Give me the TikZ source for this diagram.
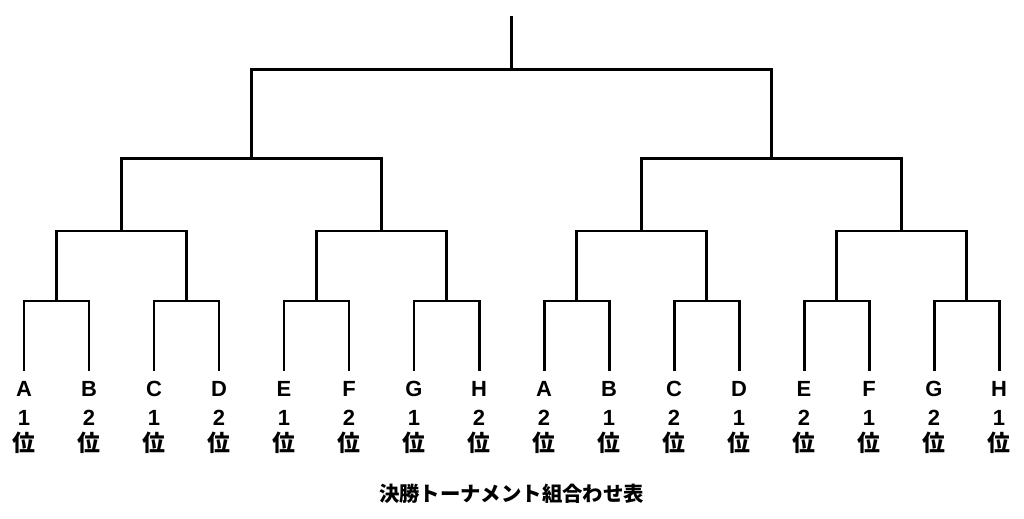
\documentclass[tikz,border=0pt]{standalone}
\usepackage{fontspec}
\usepackage{tikz}
\newfontfamily\jpfont{Noto Sans CJK JP}
\newfontfamily\latinfont{Liberation Sans}
\usetikzlibrary{positioning}

\begin{document}
\begin{tikzpicture}[
    x=0.02cm, y=-0.02cm,
    bracket/.style={line width=1.7pt, black, line join=miter},
    team/.style={font=\latinfont\bfseries\fontsize{12.5}{15}\selectfont, inner sep=0pt},
    place/.style={font=\jpfont\bfseries\fontsize{13}{15}\selectfont, inner sep=0pt},
    caption/.style={font=\jpfont\bfseries\fontsize{11.6}{13}\selectfont, inner sep=0pt},
]
    \useasboundingbox (0,0) rectangle (1024,519);

    % Leaves and their labels
    \foreach \team/\rank [count=\i from 0] in {A/1,B/2,C/1,D/2,E/1,F/2,G/1,H/2,A/2,B/1,C/2,D/1,E/2,F/1,G/2,H/1}{
        \coordinate (l\i) at (24+65*\i, 371);
        \node[team] (t\i) at (24+65*\i, 389) {\team};
        \node[team] (r\i) at (24+65*\i, 418) {\rank};
        \node[place] (p\i) at (24+65*\i, 443) {位};
    }

    % Junctions
    \foreach \a in {0,...,7}  \coordinate (n1-\a) at (56.5+130*\a, 301);
    \foreach \a in {0,...,3}  \coordinate (n2-\a) at (121.5+260*\a, 231);
    \foreach \a in {0,...,1}  \coordinate (n3-\a) at (251.5+520*\a, 159);
    \coordinate (n4) at (511.5, 70);
    \coordinate (root) at (511.5, 16);

    % Brackets
    \foreach \a in {0,...,7}{
        \pgfmathtruncatemacro\lc{2*\a}
        \pgfmathtruncatemacro\rc{2*\a+1}
        \draw[bracket] (l\lc) |- (n1-\a) -| (l\rc);
    }
    \foreach \a in {0,...,3}{
        \pgfmathtruncatemacro\lc{2*\a}
        \pgfmathtruncatemacro\rc{2*\a+1}
        \draw[bracket] (n1-\lc) |- (n2-\a) -| (n1-\rc);
    }
    \foreach \a in {0,...,1}{
        \pgfmathtruncatemacro\lc{2*\a}
        \pgfmathtruncatemacro\rc{2*\a+1}
        \draw[bracket] (n2-\lc) |- (n3-\a) -| (n2-\rc);
    }
    \draw[bracket] (n3-0) |- (n4) -| (n3-1);
    \draw[bracket] (n4) -- (root);

    % Caption
    \node[caption] (title) at (511.5, 494) {決勝トーナメント組合わせ表};

\end{tikzpicture}
\end{document}
